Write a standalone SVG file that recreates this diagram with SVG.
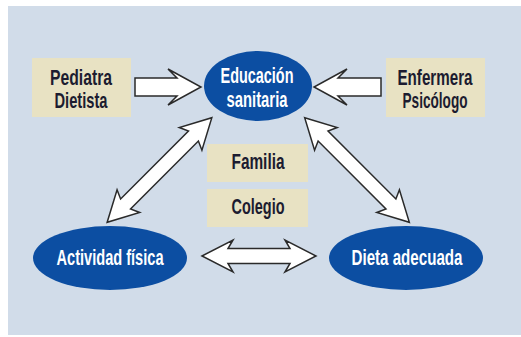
<svg xmlns="http://www.w3.org/2000/svg" width="521" height="337" viewBox="0 0 521 337">
<style>
.box{fill:#e8e2c3}
.ell{fill:#0c4ea2}
.arr{fill:#fff;stroke:#2a2a2a;stroke-width:1.5;stroke-linejoin:miter}
.t{font-family:"Liberation Sans","Arial",sans-serif;font-weight:bold;font-size:22px;text-anchor:middle}
.dk{fill:#1c1c30}
.wh{fill:#fff}
</style>
<defs>
<path id="dbl" d="M-74,0 L-44,-16 L-48,-7 L48,-7 L44,-16 L74,0 L44,16 L48,7 L-48,7 L-44,16 Z"/>
</defs>
<rect x="0" y="0" width="521" height="337" fill="#fff"/>
<rect x="8" y="6" width="513" height="329" fill="#d1dce9"/>
<g id="connectors">
<path class="arr" d="M135,78 L177,78 L168,69 L201,87 L168,105 L177,96 L135,96 Z"/>
<path class="arr" d="M381,78 L338,78 L347,69 L314,87 L347,105 L338,96 L381,96 Z"/>
<path class="arr" d="M202,256 L233,240 L228,248.5 L290,248.5 L285,240 L316,256 L285,272 L290,263.5 L228,263.5 L233,272 Z"/>
<use href="#dbl" class="arr" transform="translate(159.5,170) rotate(-45)"/>
<use href="#dbl" class="arr" transform="translate(357,170) rotate(45)"/>
</g>
<g id="pediatra">
<rect class="box" x="32" y="58" width="99" height="59"/>
<text class="t dk" x="81" y="85" textLength="62" lengthAdjust="spacingAndGlyphs">Pediatra</text>
<text class="t dk" x="81" y="108" textLength="53" lengthAdjust="spacingAndGlyphs">Dietista</text>
</g>
<g id="enfermera">
<rect class="box" x="386" y="58" width="99" height="59"/>
<text class="t dk" x="435" y="85" textLength="75" lengthAdjust="spacingAndGlyphs">Enfermera</text>
<text class="t dk" x="435" y="108" textLength="65" lengthAdjust="spacingAndGlyphs">Psicólogo</text>
</g>
<g id="educacion">
<ellipse class="ell" cx="258" cy="86" rx="54" ry="35"/>
<text class="t wh" x="257" y="83" textLength="73" lengthAdjust="spacingAndGlyphs">Educación</text>
<text class="t wh" x="257" y="107" textLength="61" lengthAdjust="spacingAndGlyphs">sanitaria</text>
</g>
<g id="familia">
<rect class="box" x="207" y="144" width="101" height="38"/>
<text class="t dk" x="258" y="169" textLength="53" lengthAdjust="spacingAndGlyphs">Familia</text>
</g>
<g id="colegio">
<rect class="box" x="207" y="189" width="101" height="38"/>
<text class="t dk" x="258" y="214" textLength="53" lengthAdjust="spacingAndGlyphs">Colegio</text>
</g>
<g id="actividad">
<ellipse class="ell" cx="110" cy="258" rx="77" ry="32"/>
<text class="t wh" x="110" y="265" textLength="107" lengthAdjust="spacingAndGlyphs">Actividad física</text>
</g>
<g id="dieta">
<ellipse class="ell" cx="406" cy="258" rx="77" ry="32"/>
<text class="t wh" x="407" y="265" textLength="111" lengthAdjust="spacingAndGlyphs">Dieta adecuada</text>
</g>
</svg>
